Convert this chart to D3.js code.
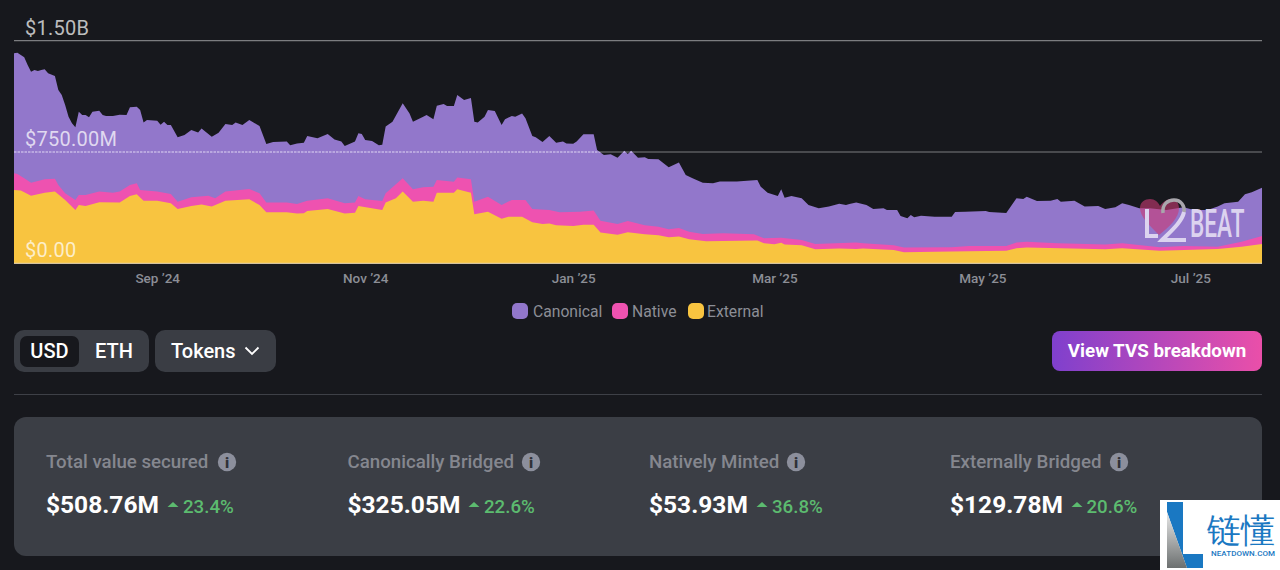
<!DOCTYPE html>
<html>
<head>
<meta charset="utf-8">
<script src="https://cdn.jsdelivr.net/npm/d3@7/dist/d3.min.js"></script>
<style>
html,body{margin:0;padding:0;background:#17181d;overflow:hidden}
svg{display:block}
text{font-family:Roboto,sans-serif}
</style>
</head>
<body>
<svg id="c" width="1280" height="570"></svg>
<script>
// Values are in $M; day = days since the first date.
const startDate = "2024-07-21";
const endDate = "2025-07-22";
const totalDays = [0,1,2,3,4,5,6,7,8,9,10,12,13,14,15,16,17,18,19,20,21,22,23,25,26,27,29,31,33,34,36,37,38,39,42,43,44,45,46,48,50,52,54,55,58,60,62,64,65,67,69,72,73,74,76,80,81,83,85,86,89,92,94,96,97,100,101,102,103,105,107,108,109,111,114,116,117,120,121,123,124,126,127,129,130,132,134,135,136,138,139,141,143,144,146,147,149,150,152,153,155,157,159,161,162,164,165,167,170,171,173,175,177,179,180,181,183,185,186,189,192,195,197,199,202,205,207,212,218,219,221,224,225,226,228,231,233,236,239,242,244,245,247,250,252,255,256,259,260,262,263,264,266,270,275,276,279,285,286,291,294,296,297,300,304,306,307,311,314,318,320,323,325,327,330,333,338,343,346,350,353,355,359,361,363,366];
const totalValues = [1415,1419,1403,1388,1336,1291,1302,1296,1302,1307,1280,1262,1168,1134,1067,988,943,916,1022,999,999,984,1022,1028,999,993,993,1001,999,1051,1055,1033,948,966,961,934,954,932,932,849,865,898,882,909,853,880,939,932,948,932,966,925,865,804,817,820,795,808,813,858,842,871,835,820,790,820,876,871,831,824,795,799,921,954,1078,1010,954,988,999,970,1062,1073,1060,1060,1134,1100,1114,954,948,988,1033,1026,932,970,993,988,1010,977,858,849,817,858,813,820,808,806,820,869,869,763,730,734,712,759,737,759,712,714,703,701,647,680,595,573,543,539,552,552,561,516,476,454,499,442,454,438,393,371,382,402,393,400,409,393,366,371,359,359,319,303,326,310,321,314,314,346,348,353,346,339,438,433,449,420,422,433,415,422,382,386,366,377,404,393,371,371,359,377,359,359,382,404,415,465,478,509];
const nativeTopDays = [0,1,3,5,9,12,13,15,18,19,21,25,29,31,34,36,37,42,46,48,52,57,59,62,69,72,74,80,83,86,92,97,100,101,103,108,109,114,117,120,123,124,129,130,134,135,139,143,146,150,152,157,160,166,170,172,177,180,185,189,192,195,198,202,208,217,220,225,231,235,247,249,258,261,275,280,291,294,297,306,320,325,336,343,353,360,366];
const nativeTopValues = [606,602,573,543,566,570,528,472,427,460,460,483,476,483,528,539,494,483,467,415,445,456,438,483,501,472,409,409,400,422,438,404,409,454,431,420,472,573,499,512,516,561,550,579,566,415,449,393,427,427,366,359,344,348,355,287,265,285,256,247,229,238,213,198,202,195,168,173,157,130,141,135,121,106,108,117,117,141,146,135,126,135,108,117,112,146,184];
const externalDays = [0,2,5,9,12,15,18,19,21,25,31,34,36,38,42,46,48,52,55,58,62,69,72,74,80,83,85,86,92,97,100,101,108,109,112,114,117,120,123,124,129,130,134,135,139,143,145,149,152,155,157,159,164,167,170,172,177,180,185,189,192,195,198,203,218,220,223,225,226,231,235,242,247,249,258,261,275,280,291,294,297,320,325,336,353,360,366];
const externalValues = [494,490,456,476,483,427,359,393,386,411,409,454,465,422,422,404,366,386,397,382,422,431,393,344,344,335,337,353,366,335,341,386,359,409,438,483,415,422,415,476,476,499,476,330,348,301,314,314,276,265,269,256,251,260,260,207,193,209,195,189,175,180,162,148,153,135,128,139,126,121,94,99,97,99,90,74,79,81,85,101,106,94,101,85,97,112,130];

const yTickValues = [0,750,1500];
const yTickLabels = ["$0.00","$750.00M","$1.50B"];
const xTickDates = ["2024-09-01","2024-11-01","2025-01-01","2025-03-01","2025-05-01","2025-07-01"];
const legendNames = ["Canonical","Native","External"];
const seriesColors = ["#9277cb","#ee52b0","#f8c440"];
const metricLabels = ["Total value secured","Canonically Bridged","Natively Minted","Externally Bridged"];
const metricValues = ["$508.76M","$325.05M","$53.93M","$129.78M"];
const metricChanges = ["23.4%","22.6%","36.8%","20.6%"];

const svg = d3.select("#c");
const parse = d3.utcParse("%Y-%m-%d");
const t0 = parse(startDate);
const dayToDate = d => d3.utcDay.offset(t0, d);
const x = d3.scaleUtc().domain([t0, parse(endDate)]).range([14,1262]);
const y = d3.scaleLinear().domain([0,1500]).range([263.3,40.7]);

const defs = svg.append("defs");
const grad = defs.append("linearGradient").attr("id","btn");
grad.append("stop").attr("offset","0").attr("stop-color","#7f40cd");
grad.append("stop").attr("offset","1").attr("stop-color","#ea4fa9");
const greyGrad = defs.append("linearGradient").attr("id","lg").attr("x1",0).attr("y1",0).attr("x2",0).attr("y2",1);
greyGrad.append("stop").attr("offset","0").attr("stop-color","#e8e8e8");
greyGrad.append("stop").attr("offset","1").attr("stop-color","#6c7070");

// gridlines behind the areas
svg.append("g").selectAll("line").data(yTickValues.slice(1)).join("line")
  .attr("x1",14).attr("x2",1262).attr("y1",d=>y(d)).attr("y2",d=>y(d))
  .attr("stroke","#7c7d80").attr("stroke-width",1.2);

const area = (days,vals) => d3.area().x(i=>x(dayToDate(days[i]))).y0(y(0)).y1(i=>y(vals[i]))(d3.range(days.length));
const layers = [[totalDays,totalValues],[nativeTopDays,nativeTopValues],[externalDays,externalValues]];
svg.append("g").selectAll("path").data(layers).join("path")
  .attr("d",d=>area(d[0],d[1])).attr("fill",(d,i)=>seriesColors[i]);

// part of the 750M line that runs over the areas
defs.append("clipPath").attr("id","totalClip").append("path").attr("d",area(totalDays,totalValues));
svg.append("line").attr("clip-path","url(#totalClip)")
  .attr("x1",14).attr("x2",1262).attr("y1",y(750)).attr("y2",y(750))
  .attr("stroke","#efe9fb").attr("stroke-opacity",0.85).attr("stroke-width",1).attr("stroke-dasharray","2.5 1");
svg.append("line").attr("x1",14).attr("x2",1262).attr("y1",y(0)).attr("y2",y(0))
  .attr("stroke","#e9dcae").attr("stroke-width",1);

// y labels
svg.append("g").selectAll("text").data(yTickValues).join("text")
  .attr("x",25).attr("y",d=>y(d)-6)
  .attr("font-size",20).attr("letter-spacing",0.25).attr("fill","#fff").attr("fill-opacity",0.72)
  .text((d,i)=>yTickLabels[i]);

// watermark
const wm = svg.append("g").attr("class","watermark");
wm.append("path")
  .attr("d","M1159,235 C1148,224 1140,216 1140,208 C1140,202 1145,199 1150,199 C1155,199 1158,202 1160,206 C1163,202 1167,199 1171,199 C1176,199 1179,203 1179,208 C1179,218 1170,226 1159,235 Z")
  .attr("fill","#c93a74").attr("fill-opacity",0.6);
wm.append("path").attr("d","M1163,213 C1162,204 1168,200 1174,200 C1181,200 1185,206 1184,212")
  .attr("fill","none").attr("stroke","#a9a6ac").attr("stroke-width",3.5);
wm.append("path").attr("d","M1184,212 C1182,222 1170,232 1162,240 L1186,240")
  .attr("fill","none").attr("stroke","#dcd3ef").attr("stroke-width",4);
wm.append("path").attr("d","M1147,209 L1147,236 L1158,236").attr("fill","none").attr("stroke","#dcd3ef").attr("stroke-width",4);
wm.append("text").attr("transform","translate(1190,237) scale(0.58,1)").attr("font-size",39).attr("font-weight",500).attr("fill","#dcd3ef").text("BEAT");

// x axis
const xAxis = d3.axisBottom(x).tickValues(xTickDates.map(parse))
  .tickSize(0).tickPadding(0).tickFormat(d=>d3.utcFormat("%b ’%y")(d));
const ax = svg.append("g").attr("transform","translate(0,273)").call(xAxis);
ax.select(".domain").remove();
ax.selectAll("text").attr("font-family","Roboto,sans-serif").attr("font-size",13.5).attr("font-weight",500).attr("fill","#8c8e96");

// legend
const legendSwatchX = [512,612,688], legendTextX = [533,632,707];
const leg = svg.append("g").selectAll("g").data(legendNames).join("g");
leg.append("rect").attr("x",(d,i)=>legendSwatchX[i]).attr("y",303).attr("width",16).attr("height",16).attr("rx",5)
  .attr("fill",(d,i)=>seriesColors[i]);
leg.append("text").attr("x",(d,i)=>legendTextX[i]).attr("y",316.5).attr("font-size",15.7).attr("fill","#8c8e96").text(d=>d);

// controls
const panel = "#3a3d44";
svg.append("rect").attr("x",14).attr("y",330).attr("width",135).attr("height",42).attr("rx",10).attr("fill",panel);
svg.append("rect").attr("x",20).attr("y",336).attr("width",59).attr("height",31).attr("rx",7).attr("fill","#17181d");
svg.append("rect").attr("x",155).attr("y",330).attr("width",121).attr("height",42).attr("rx",10).attr("fill",panel);
svg.append("text").attr("x",49.5).attr("y",357.5).attr("text-anchor","middle").attr("font-size",20).attr("font-weight",500).attr("fill","#fff").text("USD");
svg.append("text").attr("x",114).attr("y",357.5).attr("text-anchor","middle").attr("font-size",20).attr("font-weight",500).attr("fill","#fff").text("ETH");
svg.append("text").attr("x",171).attr("y",357.5).attr("font-size",20).attr("font-weight",500).attr("fill","#fff").text("Tokens");
svg.append("path").attr("d","M245.5,347.5 L252,354 L258.5,347.5").attr("fill","none").attr("stroke","#fff").attr("stroke-width",1.8);
svg.append("rect").attr("x",1052).attr("y",331).attr("width",210).attr("height",40).attr("rx",8).attr("fill","url(#btn)");
svg.append("text").attr("x",1157).attr("y",357).attr("text-anchor","middle").attr("font-size",18.8).attr("font-weight",700).attr("fill","#fff").text("View TVS breakdown");
svg.append("line").attr("x1",14).attr("x2",1262).attr("y1",394.5).attr("y2",394.5).attr("stroke","#3e4047").attr("stroke-width",1);

// metric card
svg.append("rect").attr("x",14).attr("y",417).attr("width",1248).attr("height",139).attr("rx",12).attr("fill","#3b3e45");
const metricX = [46,347.5,649,950];
const infoX = [227,531,796,1119];
const changeX = [183,484,772,1086.5];
const triX = [173,474,762,1077];
const m = svg.append("g").selectAll("g").data(metricLabels).join("g");
m.append("text").attr("x",(d,i)=>metricX[i]).attr("y",468).attr("font-size",18.7).attr("font-weight",500).attr("fill","#85878f").text(d=>d);
m.append("circle").attr("cx",(d,i)=>infoX[i]).attr("cy",462).attr("r",9.2).attr("fill","#8c8f9c");
m.append("text").attr("x",(d,i)=>infoX[i]).attr("y",467.5).attr("text-anchor","middle").attr("font-size",15).attr("font-weight",900).attr("fill","#2f3137").text("i");
m.append("text").attr("x",(d,i)=>metricX[i]).attr("y",513).attr("font-size",24.5).attr("font-weight",700).attr("fill","#fff").text((d,i)=>metricValues[i]);
m.append("path").attr("d",(d,i)=>`M${triX[i]-5.5},507 L${triX[i]},502 L${triX[i]+5.5},507 Z`).attr("fill","#5cbb6f");
m.append("text").attr("x",(d,i)=>changeX[i]).attr("y",513).attr("font-size",18.7).attr("font-weight",500).attr("fill","#5cbb6f").text((d,i)=>metricChanges[i]);

// corner brand
const b = svg.append("g");
b.append("rect").attr("x",1160).attr("y",500).attr("width",120).attr("height",70).attr("fill","#fff");
b.append("path").attr("d","M1167,502 L1183,502 L1183,554 L1203,554 L1203,568 L1187,568 L1167,512 Z").attr("fill","#1a78c2");
b.append("path").attr("d","M1167,512 L1187,568 L1167,568 Z").attr("fill","url(#lg)");
b.append("text").attr("x",1207).attr("y",542).attr("font-family","'Noto Sans CJK SC'").attr("font-size",33.5).attr("font-weight",500).attr("fill","#1a78c2").text("链懂");
b.append("text").attr("x",1211).attr("y",556).attr("font-size",8).attr("font-weight",500).attr("textLength",64).attr("fill","#1a78c2").text("NEATDOWN.COM");
</script>
</body>
</html>
